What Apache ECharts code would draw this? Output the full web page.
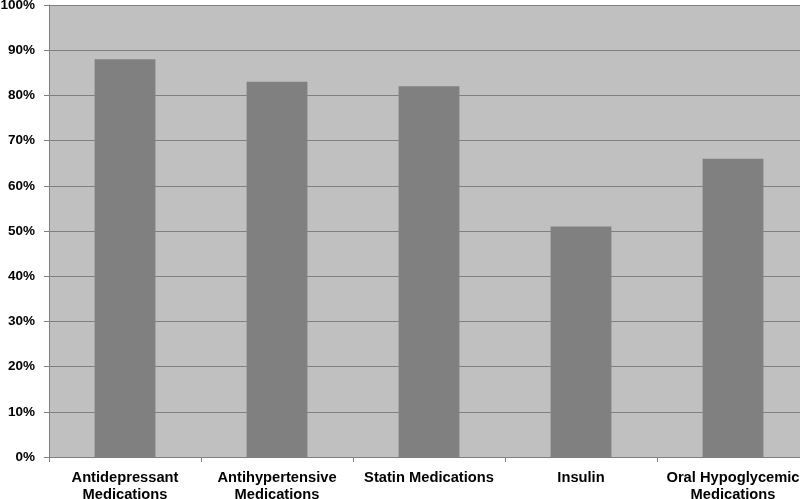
<!DOCTYPE html>
<html><head><meta charset="utf-8">
<script src="https://cdn.jsdelivr.net/npm/echarts@6/dist/echarts.min.js"></script>
<style>html,body{margin:0;padding:0;background:#fff;overflow:hidden;width:800px;height:499px}#c{width:809px;height:499px}</style>
</head><body><div id="c"></div>
<script>
const categories = ['Antidepressant\nMedications','Antihypertensive\nMedications','Statin Medications','Insulin','Oral Hypoglycemic\nMedications'];
const values = [88, 83, 82, 51, 66];
const yTicks = [0,10,20,30,40,50,60,70,80,90,100];

const chart = echarts.init(document.getElementById('c'), null, {renderer:'canvas'});
chart.setOption({
  animation:false,
  backgroundColor:'#ffffff',
  grid:{left:49, right:0, top:5, bottom:42, outerBoundsMode:'none', containLabel:false, show:true, backgroundColor:'#c0c0c0', borderWidth:0},
  xAxis:{
    type:'category', data:categories,
    axisLine:{show:true, lineStyle:{color:'#808080', width:1}},
    axisTick:{show:true, length:5, lineStyle:{color:'#808080'}},
    axisLabel:{interval:0, color:'#000', fontFamily:'Liberation Sans, Arial', fontWeight:'bold', fontSize:14.7, lineHeight:17, margin:12},
    splitLine:{show:false}
  },
  yAxis:{
    type:'value', min:0, max:100, interval:10,
    axisLine:{show:true, lineStyle:{color:'#808080', width:1}},
    axisTick:{show:true, length:5, lineStyle:{color:'#808080'}},
    axisLabel:{formatter: v => yTicks.includes(v) ? v + '%' : '', color:'#000', fontFamily:'Liberation Sans, Arial', fontWeight:'bold', fontSize:13.5, margin:14},
    splitLine:{show:true, lineStyle:{color:'#808080', width:1}}
  },
  series:[{
    type:'bar', data:values, barWidth:'40%',
    itemStyle:{color:'#808080'}
  }]
});
</script></body></html>
